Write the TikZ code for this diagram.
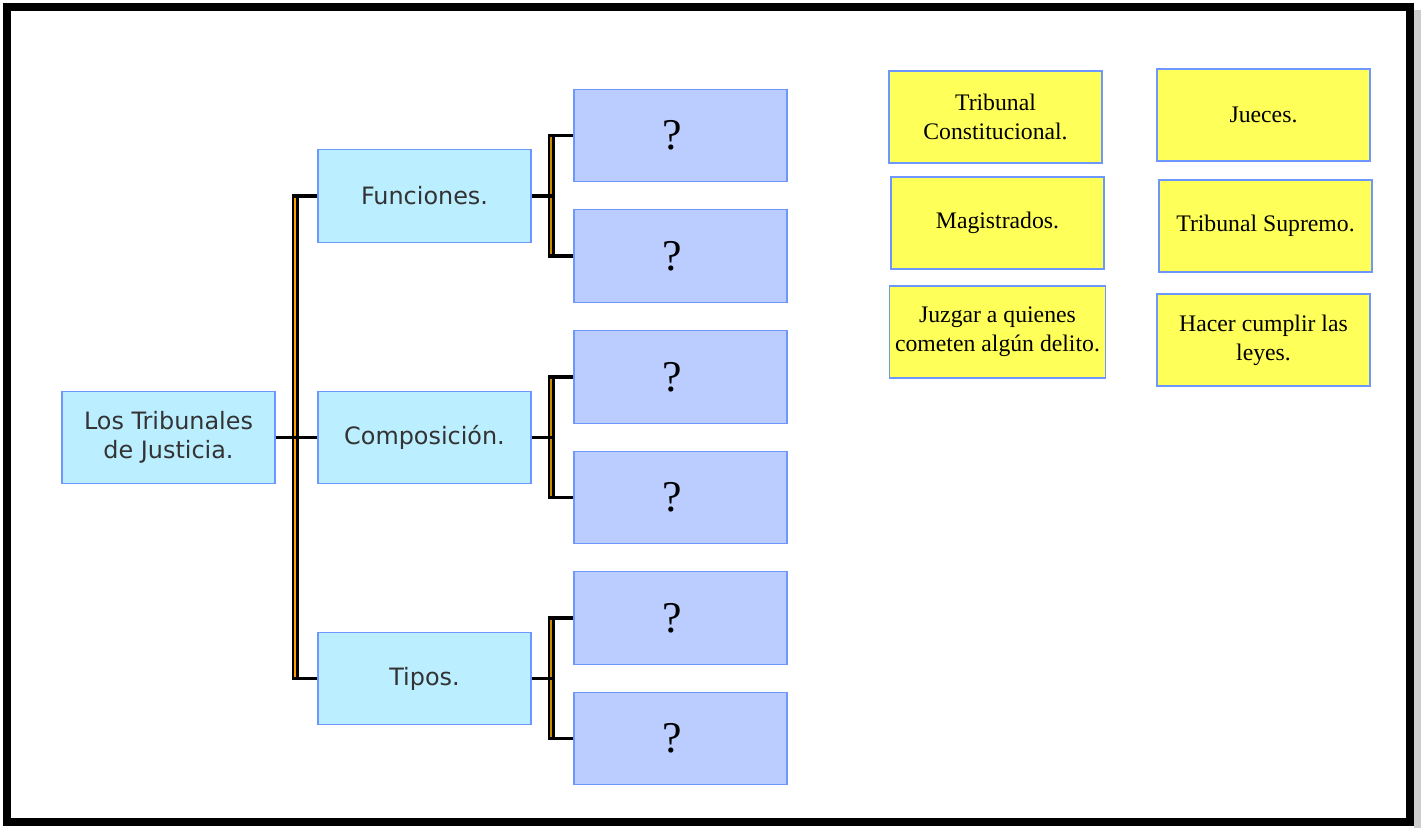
\documentclass[tikz,border=0pt]{standalone}
\usepackage{fontspec}
\setmainfont{Liberation Serif}
\newfontfamily\sansfnt{DejaVu Sans}
\usetikzlibrary{positioning, calc}

\definecolor{boxline}{RGB}{110,150,255}
\definecolor{celeste}{RGB}{187,238,255}
\definecolor{lila}{RGB}{187,204,255}
\definecolor{amarillo}{RGB}{255,255,90}
\definecolor{naranja}{RGB}{255,160,0}
\definecolor{ocre}{RGB}{205,140,0}

\begin{document}
\begin{tikzpicture}[x=0.02cm,y=-0.02cm]

	\tikzstyle{tema}=[draw=boxline,line width=0.8pt,fill=celeste,minimum width=4.26cm,minimum height=1.85cm,align=center,font=\sansfnt\fontsize{13.6}{16.4}\selectfont,text=black!80]
	\tikzstyle{hueco}=[draw=boxline,line width=0.8pt,fill=lila,minimum width=4.26cm,minimum height=1.85cm,font=\fontsize{25}{30}\selectfont,execute at end node=\hspace{0.32cm}]
	\tikzstyle{ficha}=[draw=boxline,line width=0.8pt,fill=amarillo,minimum width=4.26cm,minimum height=1.84cm,align=center,font=\fontsize{13.5}{16.4}\selectfont]
	\tikzstyle{rama}=[line width=1.9pt,black]
	\tikzstyle{tronco}=[line width=1.3pt,double distance=1.3pt,draw=black]

	\useasboundingbox (0,0) rectangle (1423,828);
	\fill[black!20] (1414,10) rectangle (1421,828);
	\draw[line width=4.5pt] (7,7) rectangle (1410,822);

	% mapa
	\node[tema] (root) at (168.5,437.5) {Los Tribunales\\de Justicia.};
	\node[tema] (fun) at (424.5,196) {Funciones.};
	\node[tema] (com) at (424.5,437.5) {Composición.};
	\node[tema] (tip) at (424.5,678.5) {Tipos.};

	\node[hueco] (f1) at (680.5,135.5) {?};
	\node[hueco] (f2) at (680.5,256) {?};
	\node[hueco] (c1) at (680.5,377) {?};
	\node[hueco] (c2) at (680.5,497.5) {?};
	\node[hueco] (t1) at (680.5,618) {?};
	\node[hueco] (t2) at (680.5,738.5) {?};

	% fichas
	\node[ficha] (y1) at (995.5,117) {Tribunal\\Constitucional.};
	\node[ficha] (y2) at (997.5,223) {Magistrados.};
	\node[ficha] (y3) at (997.5,332) {Juzgar a quienes\\cometen algún delito.};
	\node[ficha] (y4) at (1263.5,115) {Jueces.};
	\node[ficha] (y5) at (1265.5,226) {Tribunal Supremo.};
	\node[ficha] (y6) at (1263.5,340) {Hacer cumplir las\\leyes.};

	% conectores
	\draw[tronco,double=naranja] ($(fun.west)+(-22,0)$) -- ($(tip.west)+(-22,0)$);
	\draw[tronco,double=ocre] ($(f1.west)+(-22,0)$) -- ($(f2.west)+(-22,0)$);
	\draw[tronco,double=ocre] ($(c1.west)+(-22,0)$) -- ($(c2.west)+(-22,0)$);
	\draw[tronco,double=ocre] ($(t1.west)+(-22,0)$) -- ($(t2.west)+(-22,0)$);

	\draw[rama] (root.east) -- (com.west);
	\draw[rama] ($(fun.west)+(-25,0)$) -- (fun.west);
	\draw[rama] ($(tip.west)+(-25,0)$) -- (tip.west);
	\foreach \a/\b/\c in {fun/f1/f2,com/c1/c2,tip/t1/t2} {
		\draw[rama] (\a.east) -- ($(\a.east)+(21,0)$);
		\draw[rama] ($(\b.west)+(-25,0)$) -- (\b.west);
		\draw[rama] ($(\c.west)+(-25,0)$) -- (\c.west);
	}
\end{tikzpicture}
\end{document}
